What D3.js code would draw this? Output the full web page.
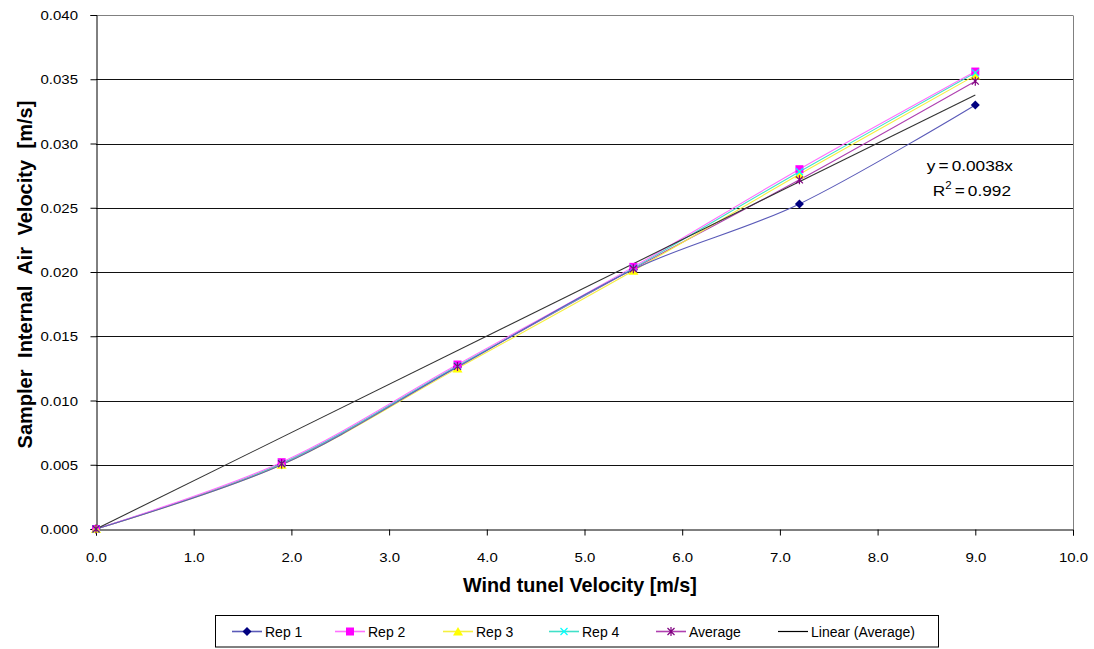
<!DOCTYPE html>
<html>
<head>
<meta charset="utf-8">
<script src="https://cdn.jsdelivr.net/npm/d3@7"></script>
<style>
  body { margin: 0; background: #fff; }
  svg { display: block; font-family: "Liberation Sans", Arial, sans-serif; }
</style>
</head>
<body>
<svg id="chart" width="1094" height="649"></svg>
<script>
// Wind tunnel velocity settings [m/s]
const windSpeed = [0, 1.9, 3.7, 5.5, 7.2, 9.0];
// Sampler internal air velocity per replicate [m/s]
const rep1 = [0, 0.0050, 0.0126, 0.0202, 0.0253, 0.0330];
const rep2 = [0, 0.0052, 0.0128, 0.0204, 0.0280, 0.0356];
const rep3 = [0, 0.0050, 0.0125, 0.0201, 0.0276, 0.0353];
const rep4 = [0, 0.0051, 0.0127, 0.0203, 0.0278, 0.0355];
const average = windSpeed.map((_, i) => (rep1[i] + rep2[i] + rep3[i] + rep4[i]) / 4);

const xTicks = [0, 1, 2, 3, 4, 5, 6, 7, 8, 9, 10];
const yTicks = [0, 0.005, 0.010, 0.015, 0.020, 0.025, 0.030, 0.035, 0.040];
const legendLabels = ["Rep 1", "Rep 2", "Rep 3", "Rep 4", "Average", "Linear (Average)"];

// Zero-intercept least-squares trend of the average
const sxy = d3.sum(windSpeed, (w, i) => w * average[i]);
const sxx = d3.sum(windSpeed, w => w * w);
const slope = sxy / sxx;
const meanY = d3.mean(average);
const ssRes = d3.sum(windSpeed, (w, i) => (average[i] - slope * w) ** 2);
const ssTot = d3.sum(average, v => (v - meanY) ** 2);
const r2 = 1 - ssRes / ssTot;

const svg = d3.select("#chart");
const plotL = 96, plotR = 1073, plotT = 15, plotB = 529;
const x = d3.scaleLinear().domain([0, 10]).range([plotL, plotR]);
const y = d3.scaleLinear().domain([0, 0.04]).range([plotB, plotT]);
const tickStretch = 1.17; // tick labels are drawn slightly wide

// Horizontal gridlines
svg.append("g").selectAll("line").data(yTicks.slice(1)).join("line")
  .attr("x1", plotL).attr("x2", plotR)
  .attr("y1", d => Math.round(y(d)) + 0.5).attr("y2", d => Math.round(y(d)) + 0.5)
  .attr("stroke", d => d === 0.04 ? "#808080" : "#111").attr("stroke-width", 1);

// Plot-area right border
svg.append("line").attr("x1", plotR + 0.5).attr("x2", plotR + 0.5)
  .attr("y1", plotT + 0.5).attr("y2", plotB).attr("stroke", "#808080");

// Axes
const xAxis = svg.append("g").attr("transform", `translate(0,${plotB + 0.5})`)
  .call(d3.axisBottom(x).tickValues(xTicks).tickFormat(d3.format(".1f")).tickSizeOuter(0).tickSize(6).tickPadding(17));
const yAxis = svg.append("g").attr("transform", `translate(${plotL + 0.5},0)`)
  .call(d3.axisLeft(y).tickValues(yTicks).tickFormat(d3.format(".3f")).tickSizeOuter(0).tickSize(6));
[xAxis, yAxis].forEach(g => {
  g.select(".domain").attr("stroke", "#000");
  g.selectAll(".tick line").attr("stroke", "#000");
  g.selectAll(".tick text").attr("fill", "#000").attr("font-size", 12.8)
    .attr("font-family", "'Liberation Sans', Arial, sans-serif");
});
xAxis.selectAll(".tick text").attr("transform", `scale(${tickStretch},1)`);
yAxis.selectAll(".tick text").attr("x", -18.5 / tickStretch).attr("dy", "0.36em")
  .attr("transform", `scale(${tickStretch},1)`);

// Axis titles
svg.append("text").attr("x", 580).attr("y", 592)
  .attr("text-anchor", "middle").attr("font-weight", "bold").attr("font-size", 19.8)
  .text("Wind tunel Velocity [m/s]");
svg.append("text").attr("transform", `translate(32,274.5) rotate(-90)`)
  .attr("text-anchor", "middle").attr("font-weight", "bold").attr("font-size", 20)
  .attr("word-spacing", 6)
  .text("Sampler Internal Air Velocity [m/s]");

// Marker shapes
const markers = {
  diamond: (g, c) => g.append("path").attr("d", "M0,-4.5L4.5,0L0,4.5L-4.5,0Z").attr("fill", c),
  square: (g, c) => g.append("path").attr("d", "M-4,-4H4V4H-4Z").attr("fill", c),
  triangle: (g, c) => g.append("path").attr("d", "M0,-4.5L5,4L-5,4Z").attr("fill", c),
  cross: (g, c) => g.append("path").attr("d", "M-3.5,-3.5L3.5,3.5M3.5,-3.5L-3.5,3.5")
    .attr("stroke", c).attr("stroke-width", 1.2).attr("fill", "none"),
  star: (g, c) => g.append("path").attr("d", "M-3.5,-3.5L3.5,3.5M3.5,-3.5L-3.5,3.5M0,-4.5V4.5")
    .attr("stroke", c).attr("stroke-width", 1.2).attr("fill", "none")
};

const series = [
  { name: legendLabels[0], values: rep1, line: "#5a5ab8", mark: "#000080", shape: "diamond" },
  { name: legendLabels[1], values: rep2, line: "#ff70ff", mark: "#ff00ff", shape: "square" },
  { name: legendLabels[2], values: rep3, line: "#f4f040", mark: "#ffff00", shape: "triangle" },
  { name: legendLabels[3], values: rep4, line: "#40e0c8", mark: "#00ffff", shape: "cross" },
  { name: legendLabels[4], values: average, line: "#b040b0", mark: "#800080", shape: "star" }
];

const line = d3.line().x(d => x(d[0])).y(d => y(d[1])).curve(d3.curveCardinal.tension(0));

// Smoothed series lines; the first replicate ends up on top of the bundle
series.slice().reverse().forEach(s => {
  const pts = windSpeed.map((w, i) => [w, s.values[i]]);
  svg.append("path").attr("d", line(pts)).attr("fill", "none")
    .attr("stroke", s.line).attr("stroke-width", 1.1);
});

// Linear trendline over the data range
svg.append("line")
  .attr("x1", x(0)).attr("y1", y(0))
  .attr("x2", x(d3.max(windSpeed))).attr("y2", y(slope * d3.max(windSpeed)))
  .attr("stroke", "#333").attr("stroke-width", 1.1);

series.forEach(s => {
  windSpeed.forEach((w, i) => {
    const g = svg.append("g").attr("transform", `translate(${x(w)},${y(s.values[i])})`);
    markers[s.shape](g, s.mark);
  });
});

// Trendline equation
const eq1 = svg.append("g").attr("transform", "translate(1013,171) scale(1.15,1)");
eq1.append("text").attr("text-anchor", "end").attr("font-size", 15).attr("word-spacing", -1.5)
  .text(`y = ${d3.format(".4f")(slope)}x`);
const eq2 = svg.append("g").attr("transform", "translate(1011,196) scale(1.15,1)");
const r2t = eq2.append("text").attr("text-anchor", "end").attr("font-size", 15).attr("word-spacing", -1.5);
r2t.append("tspan").text("R");
r2t.append("tspan").attr("font-size", 10).attr("dy", -7).text("2");
r2t.append("tspan").attr("dy", 7).text(` = ${d3.format(".3f")(r2)}`);

// Legend
const lg = svg.append("g");
lg.append("rect").attr("x", 215.5).attr("y", 615.5).attr("width", 723).attr("height", 31.5)
  .attr("fill", "#fff").attr("stroke", "#000");
const legendX = [232, 335, 443, 549, 656, 778];
const ly = 631;
legendLabels.forEach((lab, i) => {
  const lx = legendX[i];
  const s = series[i];
  lg.append("line").attr("x1", lx).attr("x2", lx + 30).attr("y1", ly + 0.5).attr("y2", ly + 0.5)
    .attr("stroke", s ? s.line : "#000").attr("stroke-width", s ? 1.6 : 1.2);
  if (s) markers[s.shape](lg.append("g").attr("transform", `translate(${lx + 15},${ly + 0.5})`), s.mark);
  lg.append("text").attr("x", lx + 33).attr("y", ly + 5.5).attr("font-size", 14).text(lab);
});
</script>
</body>
</html>
